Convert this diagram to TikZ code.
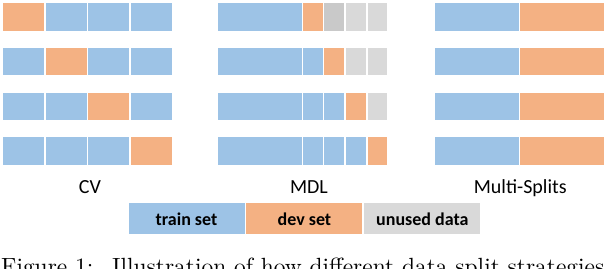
\documentclass[tikz,border=0pt]{standalone}
\usepackage{fontspec}
\usepackage{xcolor}
\usepackage{tikz}
\usetikzlibrary{positioning}
\newfontfamily\calibri{Carlito}
\definecolor{trainblue}{RGB}{157,195,230}
\definecolor{devorange}{RGB}{244,177,131}
\definecolor{unusedgray}{RGB}{217,217,217}
\definecolor{heldgray}{RGB}{201,201,201}

\begin{document}
\begin{tikzpicture}[x=1pt,y=-1pt,
  trainfill/.style={fill=trainblue,draw=white,line width=1.2pt},
  devfill/.style={fill=devorange,draw=white,line width=1.2pt},
  unusedfill/.style={fill=unusedgray,draw=white,line width=1.2pt},
  splitname/.style={anchor=base,inner sep=0pt,font=\calibri\fontsize{20}{24}\selectfont},
  legendkey/.style={minimum width=116pt,minimum height=31pt,inner sep=0pt,
    font=\calibri\bfseries\fontsize{18}{22}\selectfont}]
\useasboundingbox (0,0) rectangle (604,268);
% cross validation
\path[devfill] (2.5,2.5) rectangle (45,31.2);
\path[trainfill] (45,2.5) rectangle (87.5,31.2) (87.5,2.5) rectangle (130,31.2)
  (130,2.5) rectangle (172.5,31.2);
\path[trainfill] (2.5,47.3) rectangle (45,76) (87.5,47.3) rectangle (130,76)
  (130,47.3) rectangle (172.5,76);
\path[devfill] (45,47.3) rectangle (87.5,76);
\path[trainfill] (2.5,92) rectangle (45,120.7) (45,92) rectangle (87.5,120.7)
  (130,92) rectangle (172.5,120.7);
\path[devfill] (87.5,92) rectangle (130,120.7);
\path[trainfill] (2.5,136.7) rectangle (45,165.4) (45,136.7) rectangle (87.5,165.4)
  (87.5,136.7) rectangle (130,165.4);
\path[devfill] (130,136.7) rectangle (172.5,165.4);
\node[splitname] (cvname) at (90,193.3) {CV};
% minimum description length
\path[trainfill] (217.5,2.5) rectangle (302.5,31.2);
\path[devfill] (302.5,2.5) rectangle (323.75,31.2);
\path[fill=heldgray,draw=white,line width=1.2pt] (323.75,2.5) rectangle (345,31.2);
\path[unusedfill] (345,2.5) rectangle (366.5,31.2) (367.5,2.5) rectangle (387.5,31.2);
\path[trainfill] (217.5,47.3) rectangle (302.5,76) (302.5,47.3) rectangle (323.75,76);
\path[devfill] (323.75,47.3) rectangle (345,76);
\path[unusedfill] (345,47.3) rectangle (366.5,76) (367.5,47.3) rectangle (387.5,76);
\path[trainfill] (217.5,92) rectangle (302.5,120.7) (302.5,92) rectangle (323.75,120.7)
  (323.75,92) rectangle (345,120.7);
\path[devfill] (345,92) rectangle (366.5,120.7);
\path[unusedfill] (367.5,92) rectangle (387.5,120.7);
\path[trainfill] (217.5,136.7) rectangle (302.5,165.4) (302.5,136.7) rectangle (323.75,165.4)
  (323.75,136.7) rectangle (345,165.4) (345,136.7) rectangle (366.5,165.4);
\path[devfill] (367.5,136.7) rectangle (387.5,165.4);
\node[splitname] (mdlname) at (309,193.3) {MDL};
% multiple splits
\path[trainfill] (434,2.5) rectangle (519.5,31.2) (434,47.3) rectangle (519.5,76)
  (434,92) rectangle (519.5,120.7) (434,136.7) rectangle (519.5,165.4);
\path[devfill] (519.5,2.5) rectangle (606,31.2) (519.5,47.3) rectangle (606,76)
  (519.5,92) rectangle (606,120.7) (519.5,136.7) rectangle (606,165.4);
\node[splitname] (msname) at (520.3,193.3) {Multi-Splits};
% legend
\node[legendkey,fill=trainblue] (trainkey) at (186.5,218.8) {train set};
\node[legendkey,fill=devorange,right=1.5pt of trainkey] (devkey) {dev set};
\node[legendkey,fill=unusedgray,right=1.5pt of devkey] (unusedkey) {unused data};
% caption (cut off)
\node[anchor=north west,inner sep=0pt] (caption) at (1,257.6)
  {\resizebox{603pt}{!}{Figure 1:\hspace{0.8em}Illustration of how different data split strategies}};
\end{tikzpicture}
\end{document}
